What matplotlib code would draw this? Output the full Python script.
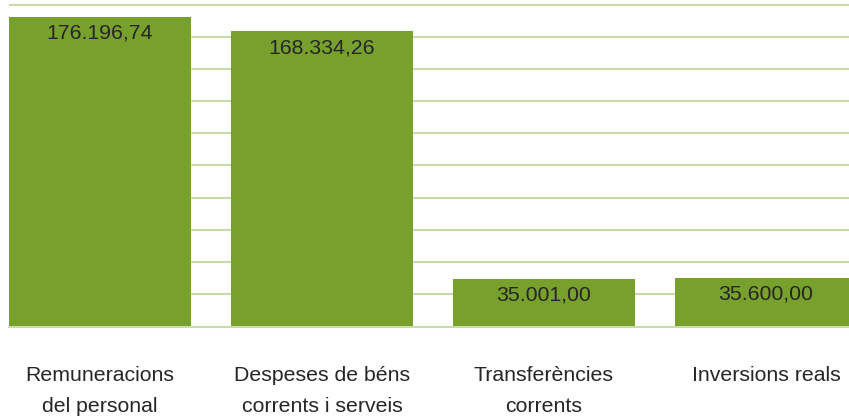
import numpy as np
import matplotlib
matplotlib.use("Agg")
import matplotlib.pyplot as plt
from matplotlib.lines import Line2D

categories = ["Remuneracions\ndel personal", "Despeses de béns\ncorrents i serveis",
              "Transferències\ncorrents", "Inversions reals"]
values = [176196.74, 168334.26, 35001.00, 35600.00]

def fmt_ca(v):
    s = f"{v:,.2f}"
    return s.replace(",", "X").replace(".", ",").replace("X", ".")

plt.rcParams['font.family'] = ['Liberation Sans', 'DejaVu Sans']

BAR = "#78A02C"
GRID = "#C8DBA8"
TXT = "#262626"

W, H = 849, 417
fig = plt.figure(figsize=(W / 100, H / 100), dpi=100)
# axes from pixel y=2 (top) to y=326 (bottom)
top_px, bot_px = 2.0, 326.0
ax = fig.add_axes([9 / W, (H - bot_px) / H, 1 - 9 / W, (bot_px - top_px) / H])

x = np.arange(len(values))
ax.bar(x, values, width=0.82, color=BAR, zorder=2)

ymin, ymax = 9500, 182600          # value at baseline / at top gridline (321 px apart)
per_px = (ymax - ymin) / 321.0
ax.set_ylim(ymin, ymax + per_px * 3)
ax.set_xlim(-0.41, 3.374)
ax.set_yticks(np.linspace(ymin, ymax, 11)[1:])
ax.yaxis.grid(True, color=GRID, linewidth=1.5)
ax.set_axisbelow(True)
ax.tick_params(axis='y', left=False, labelleft=False)
for s in ax.spines.values():
    s.set_visible(False)

# baseline line just below the bars
yb = (H - bot_px - 0.75) / H
fig.add_artist(Line2D([9 / W, 1], [yb, yb], transform=fig.transFigure,
                      color=GRID, linewidth=1.5))

ax.set_xticks(x)
ax.set_xticklabels(categories, fontsize=15.3, color=TXT)
ax.tick_params(axis='x', length=0, pad=29)
for lbl in ax.get_xticklabels():
    lbl.set_linespacing(1.75)

for xi, v in zip(x, values):
    ax.annotate(fmt_ca(v), xy=(xi, v), xytext=(0, -5), textcoords='offset points',
                ha='center', va='top', fontsize=15.3, color=TXT, zorder=3)

fig.savefig("out.png", dpi=100)
